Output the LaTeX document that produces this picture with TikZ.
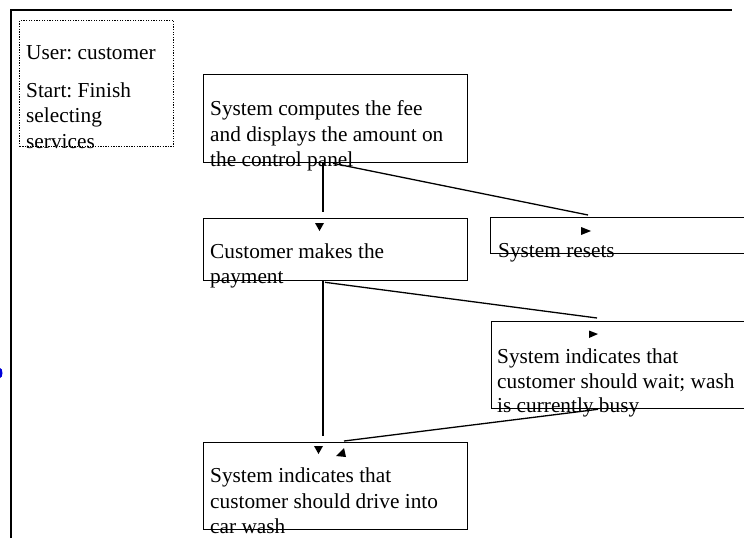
\documentclass[tikz,border=0pt]{standalone}
\usepackage{fontspec}
\setmainfont{Liberation Serif}
\frenchspacing
\begin{document}
\frenchspacing
\begin{tikzpicture}[x=1pt,y=-1pt,
  box/.style={draw,line width=1.3pt,inner sep=0pt,anchor=north west},
  dotbox/.style={draw,line width=1.3pt,dash pattern=on 1.3pt off 1.3pt,inner sep=0pt,anchor=north west},
  txt/.style={anchor=base west,inner sep=0pt,font=\fontsize{21.3}{25.5}\selectfont},
  conn/.style={line width=1.3pt},
  head/.style={fill=black}]
\useasboundingbox (0,0) rectangle (744,538);
\fill[white] (0,0) rectangle (744,538);
% outer frame
\draw[line width=1.8pt] (11,538) -- (11,10) -- (732,10);
\fill[blue!85!black] (0,373) ellipse (2.5 and 5);
% boxes
\node[dotbox,minimum width=154pt,minimum height=126pt] (d) at (19,20) {};
\node[box,minimum width=264pt,minimum height=88pt] (b1) at (203,74) {};
\node[box,minimum width=264pt,minimum height=62pt] (b2) at (203,218) {};
\node[box,minimum width=270pt,minimum height=36pt] (b3) at (490,217) {};
\node[box,minimum width=270pt,minimum height=87pt] (b4) at (491,321) {};
\node[box,minimum width=264pt,minimum height=87pt] (b5) at (203,442) {};
% texts
\node[txt] (d1) at (26,59) {User: customer};
\node[txt] (d2) at (26,97) {Start: Finish};
\node[txt] (d3) at (26,122) {selecting};
\node[txt] (d4) at (26,148) {services};
\node[txt] (t11) at (210,115) {System computes the fee};
\node[txt] (t12) at (210,141) {and displays the amount on};
\node[txt] (t13) at (210,166) {the control panel};
\node[txt] (t21) at (210,258) {Customer makes the};
\node[txt] (t22) at (210,283) {payment};
\node[txt] (t31) at (498,257) {System resets};
\node[txt] (t41) at (497,363) {System indicates that};
\node[txt] (t42) at (497,388) {customer should wait; wash};
\node[txt] (t43) at (497,412) {is currently busy};
\node[txt] (t51) at (210,482) {System indicates that};
\node[txt] (t52) at (210,508) {customer should drive into};
\node[txt] (t53) at (210,533) {car wash};
% connectors
\draw[conn] ([xshift=120pt]b1.south west) -- ([xshift=120pt,yshift=6pt]b2.north west);
\draw[conn] ([xshift=130pt]b1.south west) -- ([xshift=98pt,yshift=2pt]b3.north west);
\draw[conn] ([xshift=120pt]b2.south west) -- ([xshift=120pt,yshift=6pt]b5.north west);
\draw[conn] ([xshift=122pt,yshift=-1pt]b2.south west) -- ([xshift=106pt,yshift=3pt]b4.north west);
\draw[conn] ([xshift=107pt]b4.south west) -- ([xshift=141pt,yshift=1pt]b5.north west);
% arrowheads
\fill[head] (315,223) -- (324,223) -- (319.5,231) -- cycle;
\fill[head] (581,227) -- (581,235) -- (591,231) -- cycle;
\fill[head] (589,330.5) -- (589,338) -- (598,334) -- cycle;
\fill[head] (314,446) -- (323,446) -- (318.5,454) -- cycle;
\fill[head] (336,456) -- (344,448) -- (346,457) -- cycle;
\end{tikzpicture}
\end{document}
